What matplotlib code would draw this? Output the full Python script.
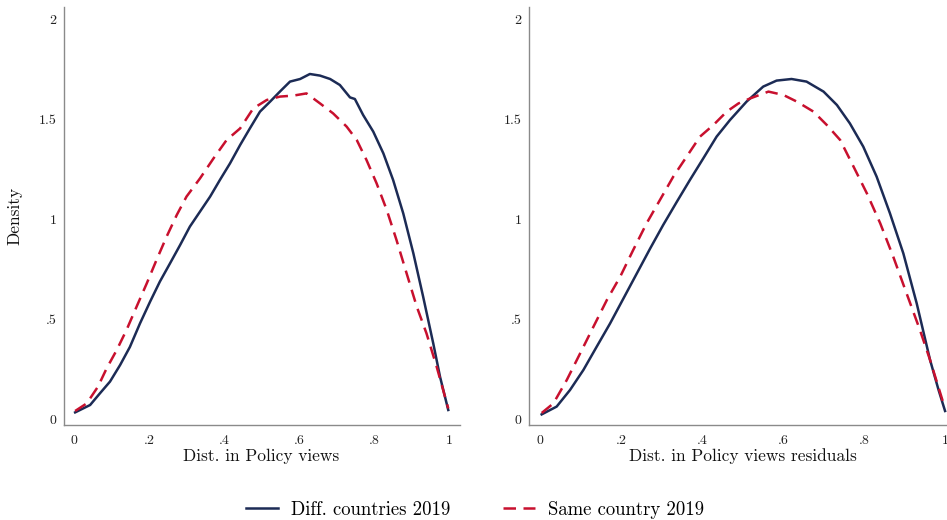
import matplotlib.pyplot as plt

plt.rcParams['font.family'] = ['cmr10', 'DejaVu Serif']
plt.rcParams['axes.formatter.use_mathtext'] = True

# left panel: distance in policy views
left_diff_x = [0.003, 0.043, 0.069, 0.096, 0.123, 0.149, 0.176, 0.203, 0.229, 0.256,
               0.283, 0.309, 0.336, 0.363, 0.389, 0.416, 0.443, 0.469, 0.496, 0.523,
               0.549, 0.576, 0.603, 0.629, 0.656, 0.683, 0.709, 0.736, 0.749, 0.771,
               0.798, 0.825, 0.851, 0.878, 0.905, 0.931, 0.958, 0.976, 0.998]
left_diff_y = [0.033, 0.07, 0.128, 0.187, 0.27, 0.36, 0.478, 0.587, 0.687, 0.778,
               0.87, 0.962, 1.037, 1.112, 1.195, 1.278, 1.37, 1.453, 1.537, 1.587,
               1.637, 1.687, 1.70, 1.725, 1.717, 1.70, 1.67, 1.608, 1.60, 1.52,
               1.437, 1.328, 1.195, 1.028, 0.828, 0.612, 0.378, 0.212, 0.045]
left_same_x = [0.003, 0.034, 0.064, 0.087, 0.114, 0.14, 0.167, 0.194, 0.22, 0.247,
               0.274, 0.30, 0.336, 0.372, 0.407, 0.443, 0.478, 0.514, 0.549, 0.585,
               0.62, 0.656, 0.691, 0.727, 0.754, 0.78, 0.807, 0.834, 0.86, 0.887,
               0.914, 0.94, 0.967, 0.998]
left_same_y = [0.04, 0.078, 0.162, 0.253, 0.345, 0.445, 0.562, 0.678, 0.795, 0.912,
               1.02, 1.112, 1.203, 1.303, 1.395, 1.453, 1.553, 1.595, 1.612, 1.617,
               1.628, 1.578, 1.528, 1.462, 1.395, 1.295, 1.178, 1.045, 0.895, 0.728,
               0.562, 0.428, 0.262, 0.053]

# right panel: distance in policy view residuals
right_diff_x = [0.004, 0.041, 0.074, 0.107, 0.14, 0.173, 0.206, 0.239, 0.272, 0.304,
                0.338, 0.37, 0.403, 0.436, 0.469, 0.51, 0.551, 0.584, 0.621, 0.658,
                0.70, 0.733, 0.765, 0.798, 0.831, 0.864, 0.897, 0.93, 0.963, 0.984, 1.0]
right_diff_y = [0.023, 0.062, 0.145, 0.245, 0.362, 0.478, 0.603, 0.728, 0.853, 0.97,
                1.087, 1.195, 1.303, 1.412, 1.495, 1.587, 1.662, 1.692, 1.70, 1.687,
                1.637, 1.57, 1.478, 1.362, 1.212, 1.028, 0.828, 0.578, 0.295, 0.145, 0.04]
right_same_x = [0.004, 0.033, 0.066, 0.099, 0.132, 0.165, 0.198, 0.23, 0.263, 0.296,
                0.329, 0.362, 0.395, 0.428, 0.461, 0.49, 0.519, 0.564, 0.601, 0.634,
                0.675, 0.708, 0.741, 0.774, 0.807, 0.84, 0.872, 0.905, 0.938, 0.963, 0.996]
right_same_y = [0.03, 0.078, 0.195, 0.328, 0.462, 0.595, 0.712, 0.845, 0.978, 1.095,
                1.212, 1.312, 1.412, 1.47, 1.537, 1.578, 1.603, 1.637, 1.62, 1.587,
                1.537, 1.47, 1.395, 1.262, 1.128, 0.978, 0.812, 0.628, 0.445, 0.295, 0.078]

xticks = [0, 0.2, 0.4, 0.6, 0.8, 1]
xtick_labels = ['0', '.2', '.4', '.6', '.8', '1']
yticks = [0, 0.5, 1, 1.5, 2]
ytick_labels = ['0', '.5', '1', '1.5', '2']

NAVY = '#1c2b55'
RED = '#c8102e'
W, H = 947, 520

fig = plt.figure(figsize=(W / 100, H / 100), dpi=100)
ax1 = fig.add_axes([63.5 / W, 95 / H, 396 / W, 418 / H])
ax2 = fig.add_axes([528.7 / W, 95 / H, 427.7 / W, 418 / H])

panels = [
    (ax1, left_diff_x, left_diff_y, left_same_x, left_same_y, 'Dist. in Policy views'),
    (ax2, right_diff_x, right_diff_y, right_same_x, right_same_y,
     'Dist. in Policy views residuals'),
]
for ax, dx, dy, sx, sy, xlabel in panels:
    ax.plot(dx, dy, color=NAVY, lw=1.8, label='Diff. countries 2019')
    ax.plot(sx, sy, color=RED, lw=1.8, dashes=(5, 3), label='Same country 2019')
    ax.set_xlim(-0.028, 1.028)
    ax.set_ylim(-0.03, 2.06)
    ax.set_xticks(xticks, xtick_labels)
    ax.set_yticks(yticks, ytick_labels)
    ax.tick_params(length=0, labelsize=10, colors='#222222')
    ax.tick_params(axis='x', pad=7)
    ax.tick_params(axis='y', pad=5)
    for side in ['top', 'right']:
        ax.spines[side].set_visible(False)
    for side in ['left', 'bottom']:
        ax.spines[side].set_color('#8a8a8a')
        ax.spines[side].set_linewidth(1.0)
    ax.set_xlabel(xlabel, fontsize=12.5, labelpad=1, color='#111111')

ax1.set_ylabel('Density', fontsize=12.5, labelpad=12, color='#111111')

handles, labels = ax1.get_legend_handles_labels()
fig.legend(handles, labels, loc='center', bbox_to_anchor=(475 / W, 1 - 510 / H),
           ncol=2, frameon=False, fontsize=13.5, handlelength=1.7,
           columnspacing=2.8, handletextpad=0.7)

fig.savefig('out.png', dpi=100)
